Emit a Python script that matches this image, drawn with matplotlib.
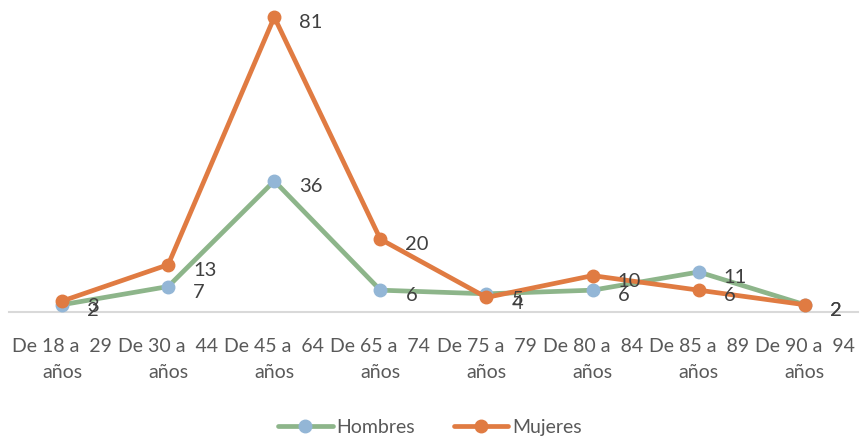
import matplotlib
matplotlib.use("Agg")
import matplotlib.pyplot as plt

# Grupos de edad y casos por sexo
categorias = ["De 18 a  29\naños", "De 30 a  44\naños", "De 45 a  64\naños",
              "De 65 a  74\naños", "De 75 a  79\naños", "De 80 a  84\naños",
              "De 85 a  89\naños", "De 90 a  94\naños"]
hombres = [2, 7, 36, 6, 5, 6, 11, 2]
mujeres = [3, 13, 81, 20, 4, 10, 6, 2]

plt.rcParams['font.family'] = ['Lato', 'DejaVu Sans']

fig = plt.figure(figsize=(8.6, 4.37), dpi=100)
ax = fig.add_axes([0.0105, 0.286, 0.987, 0.714])

x = list(range(len(categorias)))
ax.plot(x, hombres, color='#8DB58A', linewidth=3.4, marker='o', markersize=9,
        markerfacecolor='#93B6D6', markeredgecolor='#93B6D6', label='Hombres',
        clip_on=False, zorder=3, solid_capstyle='round')
ax.plot(x, mujeres, color='#E07B42', linewidth=3.4, marker='o', markersize=9,
        markerfacecolor='#E07B42', markeredgecolor='#E07B42', label='Mujeres',
        clip_on=False, zorder=4, solid_capstyle='round')

# Etiquetas de datos a la derecha de cada punto
for serie in (hombres, mujeres):
    for i, v in enumerate(serie):
        ax.annotate(str(v), (i, v), xytext=(18, -4), textcoords='offset points',
                    ha='left', va='center', fontsize=14.5, color='#404040', zorder=5)

ax.set_xlim(-0.5, len(categorias) - 0.5)
ax.set_ylim(0, 85.7)
ax.set_xticks(x)
ax.set_xticklabels(categorias, fontsize=14, color='#595959', linespacing=1.6)
ax.tick_params(axis='x', length=0, pad=19)
ax.set_yticks([])

for s in ['top', 'right', 'left']:
    ax.spines[s].set_visible(False)
ax.spines['bottom'].set_color('#D9D9D9')
ax.spines['bottom'].set_linewidth(1.5)

fig.legend(loc='center', bbox_to_anchor=(0.5, 0.022), ncol=2, frameon=False,
           fontsize=14, labelcolor='#595959', handlelength=2.8,
           columnspacing=2.0, handletextpad=0.2)

fig.savefig('out.png', dpi=100)
